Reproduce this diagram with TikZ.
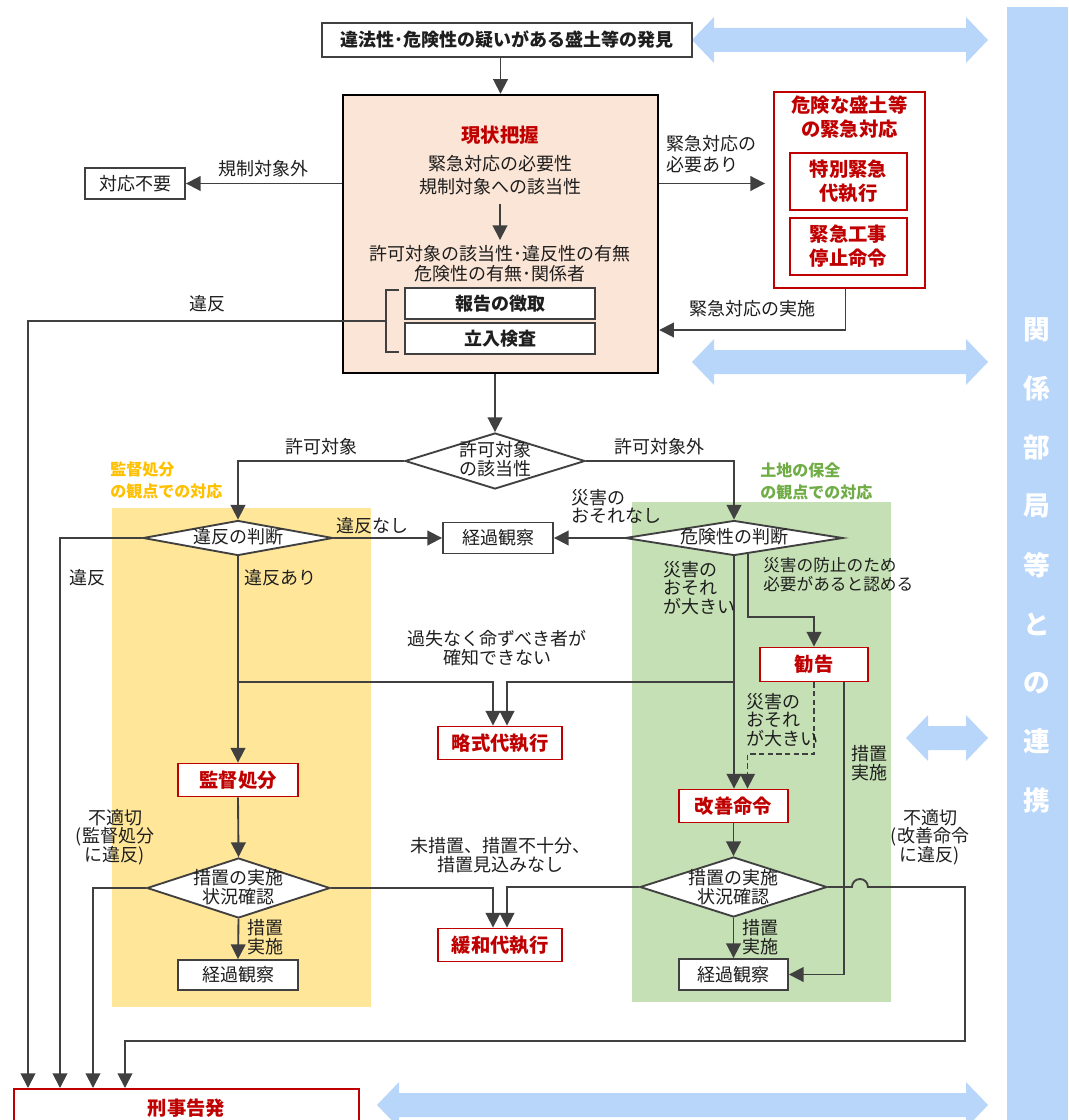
\documentclass[tikz,border=0pt]{standalone}
\usepackage{fontspec}
\setmainfont{Noto Sans CJK JP}
\usepackage{tikz}
\usetikzlibrary{arrows.meta,calc,shapes.geometric,positioning}
\definecolor{MDInk}{HTML}{404040}
\definecolor{MDText}{HTML}{1E1E1E}
\definecolor{MDRed}{HTML}{C00000}
\definecolor{MDPeach}{HTML}{FBE5D6}
\definecolor{MDGold}{HTML}{FFE699}
\definecolor{MDSage}{HTML}{C5E0B4}
\definecolor{MDSky}{HTML}{B8D6FA}
\definecolor{MDAmber}{HTML}{FFC000}
\definecolor{MDLeaf}{HTML}{70AD47}

\begin{document}
\begin{tikzpicture}[x=0.75pt,y=-0.75pt,
    every node/.style={text=MDText},
    font=\fontsize{13.5}{14}\selectfont,
    wh/.style 2 args={minimum width=#1*0.75pt,minimum height=#2*0.75pt},
    plain/.style={draw=MDInk,fill=white,line width=1.4pt,inner sep=0pt},
    alert/.style={draw=MDRed,fill=white,line width=1.4pt,inner sep=0pt,
      align=center,text=MDRed,font=\fontsize{14.5}{18}\selectfont\bfseries},
    ask/.style={diamond,draw=MDInk,fill=white,line width=1.4pt,inner sep=0pt},
    tag/.style={inner sep=0pt,align=center},
    flow/.style={draw=MDInk,line width=1.4pt,
      -{Triangle[length=11pt,width=11pt]}},
    wire/.style={draw=MDInk,line width=1.4pt}
  ]
  \useasboundingbox (0,0) rectangle (1068,1120);
  % backdrops
  \fill[MDGold] (112,508) rectangle (371,1007);
  \fill[MDSage] (632,502) rectangle (891,1002);
  \fill[MDSky] (1007,7) rectangle (1068,1130);
  \foreach \xa/\xb/\yc in {692/988/40,692/988/362,906/988/738,377/988/1105} {
    \fill[MDSky] (\xa,\yc) -- (\xa+22,\yc-23) -- (\xa+22,\yc-12)
      -- (\xb-22,\yc-12) -- (\xb-22,\yc-23) -- (\xb,\yc)
      -- (\xb-22,\yc+23) -- (\xb-22,\yc+12) -- (\xa+22,\yc+12)
      -- (\xa+22,\yc+23) -- cycle;
  }
  \foreach \ch [count=\k] in {関,係,部,局,等,と,の,連,携} {
    \node[text=white,font=\fontsize{20}{20}\selectfont\bfseries]
      (link\k) at (1037,{330+(\k-1)*58.8}) {\ch};
  }
  \node[tag,align=left,anchor=north west,text=MDAmber,
    font=\fontsize{12}{16.5}\selectfont\bfseries] (viewA) at (110,462)
    {監督処分\\の観点での対応};
  \node[tag,align=left,anchor=north west,text=MDLeaf,
    font=\fontsize{12}{16.5}\selectfont\bfseries] (viewB) at (760,462)
    {土地の保全\\の観点での対応};

  % discovery and survey
  \node[plain,wh={370}{34},font=\fontsize{13.5}{16}\selectfont\bfseries]
    (find) at (507,40) {違法性･危険性の疑いがある盛土等の発見};
  \node[draw=black,fill=MDPeach,line width=1.8pt,wh={315}{278}]
    (grasp) at (500.5,234) {};
  \node[tag,text=MDRed,font=\fontsize{14.5}{18}\selectfont\bfseries]
    (graspT) at (500,135) {現状把握};
  \node[tag,font=\fontsize{13.5}{17}\selectfont] (graspA) at (500,175)
    {緊急対応の必要性\\規制対象への該当性};
  \node[tag,font=\fontsize{13.5}{15}\selectfont] (graspB) at (500,264)
    {許可対象の該当性･違反性の有無\\危険性の有無･関係者};
  \node[plain,wh={190}{31},font=\fontsize{13.5}{16}\selectfont\bfseries]
    (report) at (500,303.5) {報告の徴取};
  \node[plain,wh={190}{31},font=\fontsize{13.5}{16}\selectfont\bfseries]
    (inspect) at (500,338.5) {立入検査};
  \node[plain,wh={100}{31}] (nofollow) at (135,183.5) {対応不要};

  % emergency
  \node[alert,wh={151}{196}] (urgent) at (849.5,190) {};
  \node[tag,text=MDRed,font=\fontsize{14.5}{18}\selectfont\bfseries]
    (urgentT) at (849.5,117) {危険な盛土等\\の緊急対応};
  \node[alert,wh={117}{57}] (special) at (848.5,181.5) {特別緊急\\代執行};
  \node[alert,wh={117}{57}] (halt) at (848.5,246.5) {緊急工事\\停止命令};

  % decisions
  \node[ask,wh={180}{56}] (permit) at (495,461) {};
  \node[tag] (permitT) at (495,459) {許可対象\\の該当性};
  \node[ask,wh={190}{35}] (breach) at (238,538) {};
  \node[tag] (breachT) at (238,537) {違反の判断};
  \node[ask,wh={218}{35}] (hazard) at (734,538) {};
  \node[tag] (hazardT) at (734,537) {危険性の判断};
  \node[plain,wh={110}{31}] (watchTop) at (498,538) {経過観察};

  % measures
  \node[alert,wh={124}{33}] (simple) at (500,743) {略式代執行};
  \node[alert,wh={120}{33}] (order) at (238,780) {監督処分};
  \node[alert,wh={108}{34}] (advise) at (814,664.5) {勧告};
  \node[alert,wh={109}{33}] (improve) at (733.5,806) {改善命令};
  \node[ask,wh={183}{60}] (checkL) at (238.5,888) {};
  \node[tag] (checkLT) at (238.5,887) {措置の実施\\状況確認};
  \node[ask,wh={187}{60}] (checkR) at (733.5,887) {};
  \node[tag] (checkRT) at (733.5,887) {措置の実施\\状況確認};
  \node[alert,wh={124}{33}] (relax) at (500,945) {緩和代執行};
  \node[plain,wh={120}{30}] (watchL) at (238,975) {経過観察};
  \node[plain,wh={109}{31}] (watchR) at (733.5,974.5) {経過観察};
  \node[alert,wh={345}{38},anchor=north west] (accuse) at (13,1088) {刑事告発};

  % helper points
  \coordinate (brk) at ($(report.south west)+(-18,1)$);
  \coordinate (fork) at (0,682);
  \coordinate (bend) at (0,617);
  \coordinate (dash) at (0,754);
  \coordinate (loopA) at (965,1041);
  \coordinate (hz) at ($(hazard.south)+(14,-2)$);
  \coordinate (adviseR) at ($(advise.south)+(30,0)$);
  \coordinate (improveR) at ($(improve.north)+(14,0)$);
  \coordinate (simpleL) at ($(simple.north)+(-7,0)$);
  \coordinate (simpleR) at ($(simple.north)+(7,0)$);
  \coordinate (relaxL) at ($(relax.north)+(-7,0)$);
  \coordinate (relaxR) at ($(relax.north)+(7,0)$);
  \coordinate (acc1) at ($(accuse.north west)+(15,0)$);
  \coordinate (acc2) at ($(accuse.north west)+(47,0)$);
  \coordinate (acc3) at ($(accuse.north west)+(80,0)$);
  \coordinate (acc4) at ($(accuse.north west)+(112,0)$);

  % connectors
  \draw[flow] (grasp.north |- find.south) -- (grasp.north);
  \draw[flow,shorten <=7pt,shorten >=4pt] (graspA) -- (graspB);
  \draw[wire] ($(report.north west)+(-5,3)$) -- ++(-13,0)
    |- ($(inspect.south west)+(-5,-3)$);
  \draw[flow] (grasp.west |- nofollow) -- (nofollow)
    node[tag,midway,above=4pt] (lblOut) {規制対象外};
  \draw[flow] (grasp.east |- nofollow) -- ($(urgent.west |- nofollow)+(-8,0)$)
    node[tag,pos=0,above right=7pt and 5pt,align=left,
      font=\fontsize{13.5}{16}\selectfont] (lblNeed) {緊急対応の\\必要あり};
  \draw[flow] ($(urgent.south)+(-4,0)$) |- ($(grasp.east)+(0,96)$)
    node[tag,pos=0.75,above=9pt] (lblDone) {緊急対応の実施};
  \draw[flow] (brk) -| (acc1) node[tag,pos=0.25,above=6pt] (lblVio) {違反};
  \draw[flow] (permit.north |- grasp.south) -- (permit.north);
  \draw[flow] (permit.west) -| (breach.north)
    node[tag,pos=0.25,above=4pt] (lblIn) {許可対象};
  \draw[flow] (permit.east) -| (hazard.north)
    node[tag,pos=0.25,above=4pt] (lblOutP) {許可対象外};
  \draw[flow] (breach.east) -- (watchTop.west)
    node[tag,pos=0.36,above=2pt] (lblNone) {違反なし};
  \draw[flow] (hazard.west) -- (watchTop.east);
  \node[tag,align=left,anchor=south west] (lblSafe) at (571,524)
    {災害の\\おそれなし};
  \draw[flow] (breach.west) -| (acc2);
  \node[tag] (lblVio2) at (87,578) {違反};
  \draw[flow] (breach.south) -- (order.north);
  \node[tag,anchor=west] (lblYes) at (244,578) {違反あり};
  \draw[flow] (breach.south |- fork) -| (simpleL);
  \draw[flow] (hazard.south |- fork) -| (simpleR);
  \node[tag] (lblUnknown) at (497,648) {過失なく命ずべき者が\\確知できない};

  \draw[flow] (order.south) -- (checkL.north);
  \draw[flow] (checkL.west) -| (acc3);
  \node[tag] (lblBadL) at (115,837) {不適切\\(監督処分\\に違反)};
  \draw[flow] (checkL.east) -| (relaxL);
  \draw[flow] (checkL.south) -- (watchL.north);
  \node[tag,align=left,anchor=west] (lblDoneL) at (247,937) {措置\\実施};
  \node[tag] (lblLack) at (500,855) {未措置、措置不十分、\\措置見込みなし};

  \draw[flow] (hazard.south) -- (hazard.south |- improve.north);
  \node[tag,align=left,anchor=west] (lblBig) at (663,588)
    {災害の\\おそれ\\が大きい};
  \draw[flow] (hz) -- (hz |- bend) -| (advise.north);
  \node[tag,align=left,anchor=west,font=\fontsize{12.5}{14}\selectfont]
    (lblPrev) at (763,575) {災害の防止のため\\必要があると認める};
  \draw[flow,dash pattern=on 4pt off 2.5pt] (advise.south)
    -- (advise.south |- dash) -| (improveR);
  \node[tag,align=left,anchor=west] (lblBig2) at (746,720)
    {災害の\\おそれ\\が大きい};
  \draw[flow] (adviseR) |- (watchR.east);
  \node[tag,align=left,anchor=west] (lblDoneA) at (851,763) {措置\\実施};
  \draw[flow] (improve.south) -- (checkR.north);
  \draw[flow] (checkR.west) -| (relaxR);
  \draw[flow] (checkR.south) -- (watchR.north);
  \node[tag,align=left,anchor=west] (lblDoneR) at (742,937) {措置\\実施};
  \draw[flow] (checkR.east) -- ($(checkR.east)+(24,0)$)
    arc[start angle=180,end angle=0,radius=6pt]
    -- (checkR.east -| loopA) -- (loopA) -| (acc4);
  \node[tag] (lblBadR) at (930,837) {不適切\\(改善命令\\に違反)};
\end{tikzpicture}
\end{document}
